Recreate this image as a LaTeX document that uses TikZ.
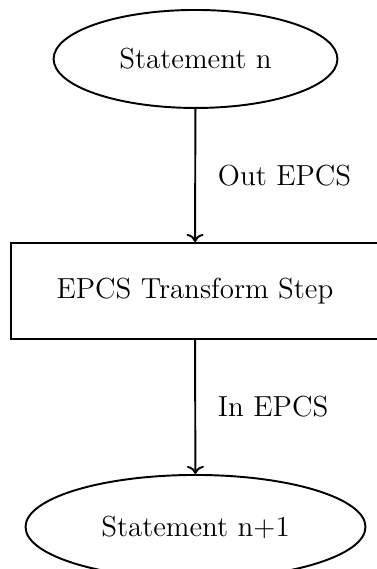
\documentclass[tikz,border=0pt]{standalone}
\usepackage{tikz}
\usetikzlibrary{arrows.meta,shapes.geometric}

\begin{document}
\begin{tikzpicture}[>=To,font=\fontsize{12}{14}\selectfont,line cap=round,
  stmt/.style={draw,thick,ellipse,inner sep=0pt},
  stepbox/.style={draw,thick,rectangle,inner sep=0pt,minimum width=5.354cm,minimum height=1.397cm},
  flow/.style={thick,->}]
\useasboundingbox (0,0) rectangle (5.486,-8.28);
\node[stmt,minimum width=4.13cm,minimum height=1.426cm] (sn) at (2.845,-0.858) {Statement n};
\node[stepbox] (tr) at (2.837,-4.234) {EPCS Transform Step};
\node[stmt,minimum width=4.947cm,minimum height=1.513cm] (sn1) at (2.845,-7.668) {Statement n+1};
\draw[flow] (sn) -- node[right=0.2cm]{Out EPCS} (tr);
\draw[flow] (tr) -- node[right=0.2cm]{In EPCS} (sn1);
\end{tikzpicture}
\end{document}
